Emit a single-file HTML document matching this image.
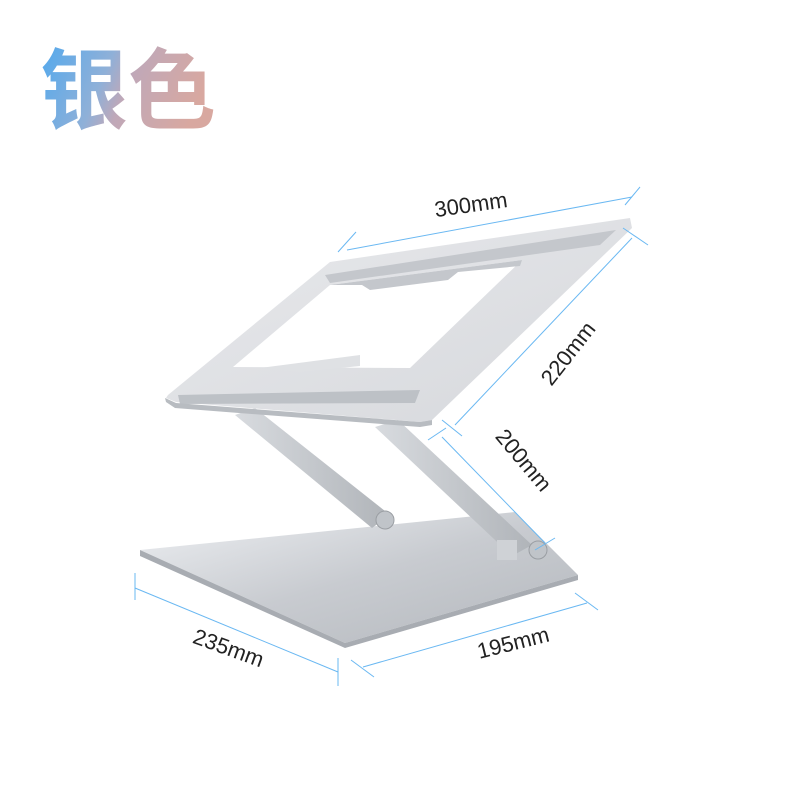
<!DOCTYPE html>
<html><head><meta charset="utf-8"><style>
html,body{margin:0;padding:0;background:#fff;width:800px;height:800px;overflow:hidden}
</style></head><body>
<svg width="800" height="800" viewBox="0 0 800 800" xmlns="http://www.w3.org/2000/svg">
<defs>
<linearGradient id="tg" x1="0" y1="0" x2="1" y2="0.3">
<stop offset="0" stop-color="#4aa8f0"/><stop offset="0.45" stop-color="#8fb0d8"/><stop offset="0.6" stop-color="#c0a8b8"/><stop offset="1" stop-color="#d8a8a0"/></linearGradient>
<linearGradient id="base" x1="0" y1="0" x2="1" y2="1">
<stop offset="0" stop-color="#eef0f3"/><stop offset="0.5" stop-color="#c8cbd0"/><stop offset="1" stop-color="#b4b8bd"/></linearGradient>
<linearGradient id="pan" x1="0" y1="0" x2="1" y2="1">
<stop offset="0" stop-color="#e8e9ec"/><stop offset="1" stop-color="#d6d8dc"/></linearGradient>
<linearGradient id="arm" x1="0" y1="0" x2="1" y2="0">
<stop offset="0" stop-color="#d8dbdf"/><stop offset="1" stop-color="#b0b4b9"/></linearGradient>
</defs>
<text x="40" y="122" font-family="Noto Sans CJK SC, sans-serif" font-size="88" font-weight="700" fill="url(#tg)">银色</text>
<!-- base -->
<polygon points="140,550 515,512 578,575 345,643" fill="url(#base)"/>
<polygon points="140,550 345,643 578,575 578,580 345,648 140,556" fill="#a8acb2"/>
<!-- arms -->
<polygon points="235,415 255,408 390,515 372,528" fill="url(#arm)"/>
<polygon points="375,427 398,420 532,545 512,556" fill="url(#arm)"/>
<circle cx="385" cy="520" r="9" fill="#c0c4c9" stroke="#9a9ea3"/>
<circle cx="538" cy="550" r="9" fill="#c0c4c9" stroke="#9a9ea3"/>
<rect x="497" y="540" width="20" height="20" fill="#cfd2d6"/>
<!-- panel -->
<polygon points="168,395 330,262 630,218 632,228 432,420 420,422 176,402 166,398" fill="url(#pan)"/>
<polygon points="233,367 330,285 522,260 410,368" fill="#fff"/>
<polygon points="330,285 522,260 520,266 458,272 448,280 370,290 362,285" fill="#c4c7cc"/>
<polygon points="325,275 616,230 600,245 330,283" fill="#c4c7cc"/>
<polygon points="260,368 360,355 360,366 300,372" fill="#dfe1e4"/>
<polygon points="178,395 420,390 415,403 180,404" fill="#bdc1c6"/>
<polygon points="165,398 176,403 420,422 432,420 432,425 420,427 175,408 166,402" fill="#b8bcc1"/>
<!-- dimension lines -->
<g stroke="#6ab8f2" stroke-width="1" fill="none">
<line x1="347" y1="250" x2="632" y2="197"/><line x1="338" y1="252" x2="356" y2="232"/><line x1="625" y1="205" x2="640" y2="187"/>
<line x1="455" y1="425" x2="632" y2="238"/><line x1="623" y1="228" x2="648" y2="245"/><line x1="442" y1="420" x2="462" y2="436"/>
<line x1="442" y1="437" x2="545" y2="543"/><line x1="428" y1="440" x2="446" y2="428"/><line x1="535" y1="550" x2="555" y2="538"/>
<line x1="135" y1="588" x2="338" y2="672"/><line x1="135" y1="573" x2="135" y2="600"/><line x1="338" y1="658" x2="338" y2="686"/>
<line x1="363" y1="667" x2="587" y2="603"/><line x1="351" y1="660" x2="374" y2="677"/><line x1="575" y1="593" x2="598" y2="610"/>
</g>
<g font-family="Liberation Sans, sans-serif" font-size="22" fill="#222">
<text x="472" y="212" text-anchor="middle" transform="rotate(-8 472 212)">300mm</text>
<text x="574" y="358" text-anchor="middle" transform="rotate(-52 574 358)">220mm</text>
<text x="518" y="465" text-anchor="middle" transform="rotate(50 518 465)">200mm</text>
<text x="226" y="655" text-anchor="middle" transform="rotate(20 226 655)">235mm</text>
<text x="515" y="650" text-anchor="middle" transform="rotate(-14 515 650)">195mm</text>
</g>
</svg>
</body></html>
